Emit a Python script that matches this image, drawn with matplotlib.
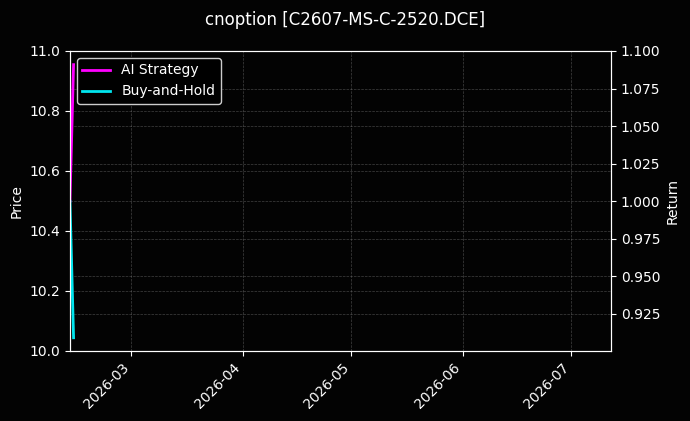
import matplotlib
matplotlib.use("Agg")
import matplotlib.pyplot as plt
import matplotlib.dates as mdates
import pandas as pd

title = "cnoption [C2607-MS-C-2520.DCE]"
dates = pd.to_datetime(["2026-02-12", "2026-02-13"])
ai_return = [1.0, 1.0909]
bh_return = [1.0, 0.9091]
x_range = pd.to_datetime(["2026-02-12", "2026-07-12"])
price_range = [10.0, 11.0]
return_range = [0.9003, 1.1]

plt.style.use("dark_background")
plt.rcParams["font.family"] = ["DejaVu Sans"]

fig = plt.figure(figsize=(6.9, 4.21), dpi=100)
fig.patch.set_facecolor("#030303")
ax1 = fig.add_axes([0.1014, 0.1663, 0.7841, 0.7126])
ax1.set_facecolor("#030303")
ax2 = ax1.twinx()

ax2.plot(dates, ai_return, color="#ff00ff", lw=2, label="AI Strategy")
ax2.plot(dates, bh_return, color="#00e5ee", lw=2, label="Buy-and-Hold")

ax1.set_xlim(x_range[0], x_range[1])
ax1.set_ylim(*price_range)
ax2.set_ylim(*return_range)
ax1.set_ylabel("Price")
ax2.set_ylabel("Return")

ax1.xaxis.set_major_locator(mdates.MonthLocator())
ax1.xaxis.set_major_formatter(mdates.DateFormatter("%Y-%m"))
plt.setp(ax1.get_xticklabels(), rotation=45, ha="right")

ax1.grid(True, ls="--", lw=0.5, color="gray", alpha=0.5)
ax2.grid(True, ls="--", lw=0.5, color="gray", alpha=0.5)

ax2.legend(loc="upper left", framealpha=1, facecolor="black", edgecolor="#cccccc")
fig.suptitle(title, fontsize=12, y=0.975)

fig.savefig("out.png", dpi=100, facecolor=fig.get_facecolor())
